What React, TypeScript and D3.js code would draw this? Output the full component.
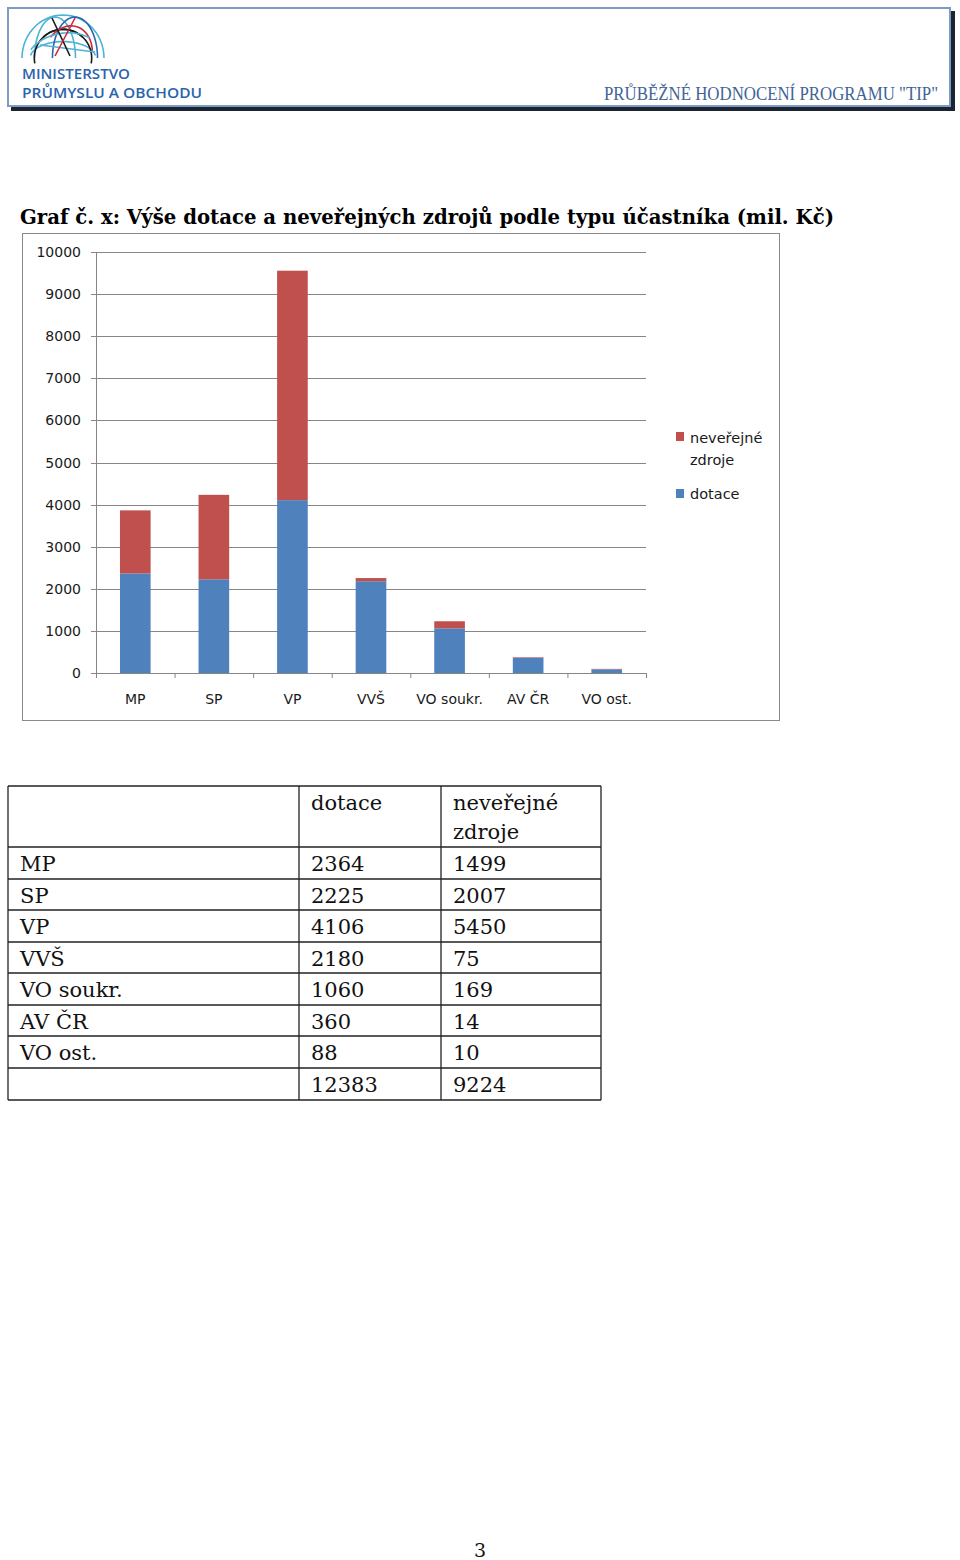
import React from "react";
import * as d3 from "d3";

const categories = ["MP", "SP", "VP", "VVŠ", "VO soukr.", "AV ČR", "VO ost."];
const dotace = [2364, 2225, 4106, 2180, 1060, 360, 88];
const neverejne = [1499, 2007, 5450, 75, 169, 14, 10];
const yTickValues = [0, 1000, 2000, 3000, 4000, 5000, 6000, 7000, 8000, 9000, 10000];
const seriesNames = ["neveřejné zdroje", "dotace"];
const seriesColors = ["#C0504D", "#4F81BD"];
const tableHeader = ["", "dotace", "neveřejné zdroje"];

const title = "Graf č. x: Výše dotace a neveřejných zdrojů podle typu účastníka (mil. Kč)";
const headerText = "PRŮBĚŽNÉ HODNOCENÍ PROGRAMU \"TIP\"";

export default function App() {
  const plotL = 96, plotR = 646, plotT = 252, plotB = 673;
  const x = d3.scaleBand<string>().domain(categories).range([plotL, plotR]).paddingInner(0.61).paddingOuter(0.305);
  const y = d3.scaleLinear().domain([0, 10000]).range([plotB, plotT]);
  const step = x.step();

  const stackData = categories.map((c, i) => ({ c, dotace: dotace[i], nev: neverejne[i] }));
  const stack = d3.stack<any>().keys(["dotace", "nev"])(stackData);
  const colorFor = (key: string) => (key === "dotace" ? seriesColors[1] : seriesColors[0]);

  const sans = "'DejaVu Sans', sans-serif";
  const serif = "'DejaVu Serif', serif";

  // table
  const colX = [8, 299, 441, 601];
  const rowY = [786, 847, 879, 910, 942, 973, 1005, 1036, 1068, 1100];
  const totalD = d3.sum(dotace);
  const totalN = d3.sum(neverejne);
  const rows: string[][] = categories.map((c, i) => [c, String(dotace[i]), String(neverejne[i])]);
  rows.push(["", String(totalD), String(totalN)]);

  // logo globe arcs
  const gcx = 63, gcy = 58, gr = 41;
  const arcPath = (a0: number, a1: number, rx: number, ry: number, rot: number, dx: number) => {
    const pts: [number, number][] = [];
    for (let t = a0; t <= a1 + 1e-6; t += (a1 - a0) / 30) {
      const px = rx * Math.cos(t), py = ry * Math.sin(t);
      const cr = Math.cos(rot), sr = Math.sin(rot);
      pts.push([gcx + dx + px * cr - py * sr, gcy + px * sr + py * cr]);
    }
    return d3.line()(pts) || "";
  };

  return (
    <svg width={960} height={1560} style={{ position: "absolute", left: 0, top: 0, background: "#fff" }}>
      {/* header box */}
      <rect x={11} y={11} width={944} height={100} fill="#1c2433" />
      <rect x={8} y={8} width={942} height={98} fill="#fff" stroke="#7d9cc4" strokeWidth={2} />
      {/* logo */}
      <g fill="none" strokeWidth={1.6}>
        <path d={arcPath(Math.PI, 2 * Math.PI, gr, gr * 1.05, 0, 0)} stroke="#4fb3d6" />
        <path d={arcPath(Math.PI * 1.05, Math.PI * 1.95, gr * 0.8, gr * 0.4, 0, 0)} stroke="#4fb3d6" />
        <path d={arcPath(Math.PI, 2 * Math.PI, gr * 0.5, gr * 1.0, 0.0, -8)} stroke="#4fb3d6" />
        <path d={arcPath(Math.PI, 2 * Math.PI, gr * 0.55, gr * 1.0, 0.0, 12)} stroke="#2b67b0" />
        <path d={arcPath(Math.PI * 1.1, Math.PI * 1.9, gr * 0.7, gr * 0.7, 0.5, 0)} stroke="#1a1a1a" />
        <path d={arcPath(Math.PI * 1.1, Math.PI * 1.9, gr * 0.7, gr * 0.7, -0.5, 0)} stroke="#1a1a1a" />
        <path d={arcPath(Math.PI * 1.15, Math.PI * 1.85, gr * 0.6, gr * 0.8, 0.3, 4)} stroke="#d0283a" />
        <path d={arcPath(Math.PI * 1.2, Math.PI * 1.8, gr * 0.9, gr * 0.6, -0.2, 0)} stroke="#4fb3d6" />
        <line x1={40} y1={45} x2={95} y2={52} stroke="#4fb3d6" />
        <line x1={52} y1={18} x2={70} y2={56} stroke="#1a1a1a" />
        <line x1={75} y1={18} x2={55} y2={56} stroke="#d0283a" />
      </g>
      <text x={22} y={79} fontFamily="'Open Sans', sans-serif" fontSize={13.5} fontWeight={600} fill="#2a63ad" textLength={108} lengthAdjust="spacingAndGlyphs">MINISTERSTVO</text>
      <text x={22} y={98} fontFamily="'Open Sans', sans-serif" fontSize={13.5} fontWeight={600} fill="#2a63ad" textLength={180} lengthAdjust="spacingAndGlyphs">PRŮMYSLU A OBCHODU</text>
      <text x={604} y={100} fontFamily="'Liberation Serif', serif" fontSize={18} fill="#3f6496" textLength={334} lengthAdjust="spacingAndGlyphs">{headerText}</text>

      {/* title */}
      <text x={20} y={224} fontFamily={serif} fontWeight="bold" fontSize={20} fill="#000" textLength={814} lengthAdjust="spacingAndGlyphs">{title}</text>

      {/* chart frame */}
      <rect x={22.5} y={233.5} width={757} height={487} fill="#fff" stroke="#8a8a8a" strokeWidth={1} />

      {/* gridlines and y axis */}
      {yTickValues.map((v) => (
        <g key={v}>
          <line x1={plotL - 5} x2={plotR} y1={Math.round(y(v)) + 0.5} y2={Math.round(y(v)) + 0.5} stroke="#868686" strokeWidth={1} />
          <text x={81} y={y(v) + 5} textAnchor="end" fontFamily={sans} fontSize={14} fill="#1a1a1a">{v}</text>
        </g>
      ))}
      <line x1={plotL + 0.5} x2={plotL + 0.5} y1={plotT} y2={plotB} stroke="#868686" strokeWidth={1} />

      {/* bars */}
      {stack.map((layer) => (
        <g key={layer.key} fill={colorFor(layer.key as string)}>
          {layer.map((d: any, i: number) => (
            <rect key={i} x={x(categories[i])!} y={y(d[1])} width={x.bandwidth()} height={y(d[0]) - y(d[1])} />
          ))}
        </g>
      ))}

      {/* x axis */}
      <line x1={plotL} x2={plotR} y1={plotB + 0.5} y2={plotB + 0.5} stroke="#868686" strokeWidth={1} />
      {d3.range(categories.length + 1).map((i) => (
        <line key={i} x1={plotL + i * step + 0.5} x2={plotL + i * step + 0.5} y1={plotB} y2={plotB + 5} stroke="#868686" />
      ))}
      {categories.map((c) => (
        <text key={c} x={x(c)! + x.bandwidth() / 2} y={704} textAnchor="middle" fontFamily={sans} fontSize={14} fill="#1a1a1a">{c}</text>
      ))}

      {/* legend */}
      <rect x={676} y={432} width={8} height={9} fill={seriesColors[0]} />
      <text x={690} y={443} fontFamily={sans} fontSize={14.5} fill="#1a1a1a">{seriesNames[0].split(" ")[0]}</text>
      <text x={690} y={465} fontFamily={sans} fontSize={14.5} fill="#1a1a1a">{seriesNames[0].split(" ")[1]}</text>
      <rect x={676} y={489} width={8} height={9} fill={seriesColors[1]} />
      <text x={690} y={499} fontFamily={sans} fontSize={14.5} fill="#1a1a1a">{seriesNames[1]}</text>

      {/* table */}
      <g fontFamily={serif} fontSize={21} fill="#111">
        <text x={colX[1] + 12} y={810}>{tableHeader[1]}</text>
        <text x={colX[2] + 12} y={810}>{tableHeader[2].split(" ")[0]}</text>
        <text x={colX[2] + 12} y={839}>{tableHeader[2].split(" ")[1]}</text>
        {rows.map((r, i) => (
          <g key={i}>
            {r.map((cell, j) => (
              <text key={j} x={colX[j] + 12} y={rowY[i + 1] + 24}>{cell}</text>
            ))}
          </g>
        ))}
      </g>
      <g stroke="#222" strokeWidth={1.3}>
        {rowY.map((yy, i) => (
          <line key={i} x1={colX[0]} x2={colX[3]} y1={yy} y2={yy} />
        ))}
        {colX.map((xx, i) => (
          <line key={i} x1={xx} x2={xx} y1={rowY[0]} y2={rowY[rowY.length - 1]} />
        ))}
      </g>

      {/* page number */}
      <text x={480} y={1557} textAnchor="middle" fontFamily={serif} fontSize={19} fill="#111">3</text>
    </svg>
  );
}
